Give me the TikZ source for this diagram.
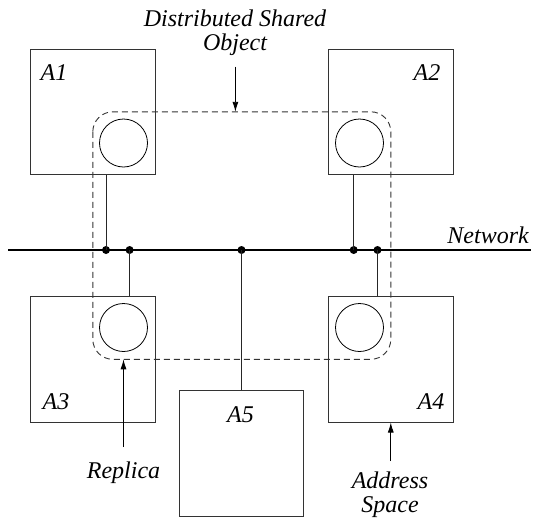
\documentclass[tikz,border=0pt]{standalone}
\usepackage{fontspec}
\setmainfont{Liberation Serif}
\usetikzlibrary{arrows.meta}
\begin{document}
\begin{tikzpicture}[x=1pt,y=-1pt,
  box/.style={draw=black!80, minimum width=124.5pt, minimum height=125.5pt, inner sep=0pt, line width=0.9pt},
  rep/.style={draw, circle, minimum size=48pt, inner sep=0pt, line width=0.8pt},
  lbl/.style={font=\fontsize{24}{24}\selectfont\itshape, inner sep=0pt, align=center},
  netdot/.style={circle, fill, minimum size=8pt, inner sep=0pt},
  arr/.style={-{Latex[length=10pt,width=6pt]}, line width=0.9pt},
  conn/.style={line width=0.9pt, draw=black!85},
  shared/.style={draw=black!80, line width=0.9pt, dash pattern=on 6pt off 4pt, rounded corners=20pt}
]
\useasboundingbox (0,0) rectangle (533,517);
% address spaces
\node[box] (A1) at (92.8,111.8) {};
\node[box] (A2) at (390.8,111.8) {};
\node[box] (A3) at (92.8,359.3) {};
\node[box] (A4) at (390.8,359.3) {};
\node[box] (A5) at (241.5,453.3) {};
% labels
\node[lbl] (t1) at (54,73) {A1};
\node[lbl] (t2) at (427,73) {A2};
\node[lbl] (t3) at (56,402) {A3};
\node[lbl] (t4) at (431,402) {A4};
\node[lbl] (t5) at (240.5,415) {A5};
% replicas
\node[rep] (r1) at (123.5,143) {};
\node[rep] (r2) at (359.5,143) {};
\node[rep] (r3) at (123.5,327.5) {};
\node[rep] (r4) at (359.5,327.5) {};
% network
\coordinate (nl) at (8,250);
\coordinate (nr) at (531,250);
\draw[line width=2pt] (nl) -- (nr);
\node[lbl, anchor=east] (net) at (529,235) {Network};
\node[netdot] (d1) at (106,250) {};
\node[netdot] (d2) at (129.6,250) {};
\node[netdot] (d3) at (241.5,250) {};
\node[netdot] (d4) at (353.7,250) {};
\node[netdot] (d5) at (377.5,250) {};
\draw[conn] (d1.center) -- (A1.south -| d1.center);
\draw[conn] (d2.center) -- (A3.north -| d2.center);
\draw[conn] (d3.center) -- (A5.north -| d3.center);
\draw[conn] (d4.center) -- (A2.south -| d4.center);
\draw[conn] (d5.center) -- (A4.north -| d5.center);
% distributed shared object
\draw[shared] (A1.center) rectangle (A4.center);
\node[lbl] (dso) at (235,33) {Distributed Shared\\Object};
\coordinate (dsoS) at (235.4,66.7);
\coordinate (dsoT) at (235.4,111.8);
\draw[arr] (dsoS) -- (dsoT);
% replica
\node[lbl] (rep) at (123.5,473) {Replica};
\coordinate (repS) at (123.5,447);
\coordinate (repT) at (123.5,359.3);
\draw[arr] (repS) -- (repT);
% address space
\node[lbl] (as) at (390,495) {Address\\Space};
\coordinate (asS) at (390.8,461);
\draw[arr] (asS) -- (A4.south);
\end{tikzpicture}
\end{document}
